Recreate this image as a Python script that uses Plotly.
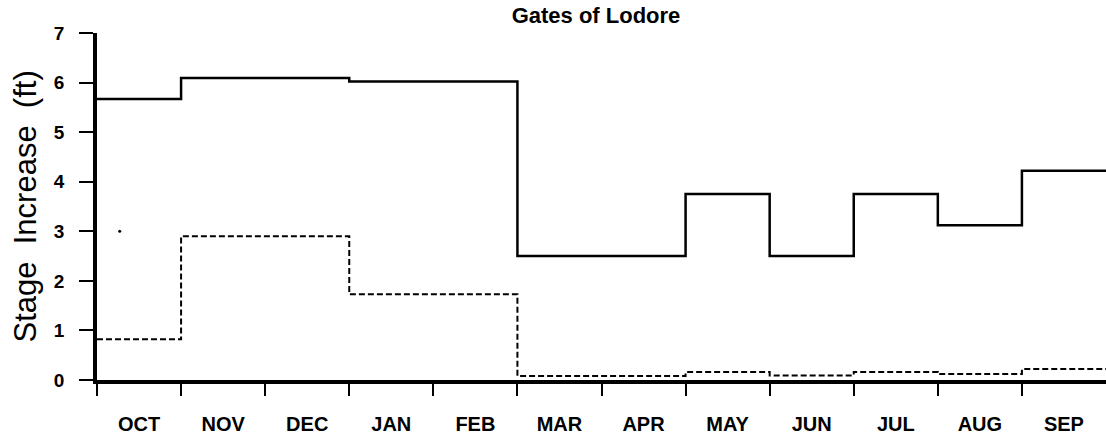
import plotly.graph_objects as go

months = ["OCT", "NOV", "DEC", "JAN", "FEB", "MAR", "APR", "MAY", "JUN", "JUL", "AUG", "SEP"]
solid_vals = [5.67, 6.09, 6.09, 6.02, 6.02, 2.5, 2.5, 3.75, 2.5, 3.75, 3.12, 4.22]
dashed_vals = [0.82, 2.9, 2.9, 1.73, 1.73, 0.08, 0.08, 0.16, 0.09, 0.16, 0.12, 0.22]
dot_x = [0.27]
dot_y = [3.0]
y_ticks = [0, 1, 2, 3, 4, 5, 6, 7]

edges = list(range(len(months) + 1))
centers = [i + 0.5 for i in range(len(months))]

fig = go.Figure()
fig.add_trace(go.Scatter(x=edges, y=solid_vals + [solid_vals[-1]], mode="lines",
                         line=dict(color="black", width=2.5, shape="hv"), showlegend=False))
fig.add_trace(go.Scatter(x=edges, y=dashed_vals + [dashed_vals[-1]], mode="lines",
                         line=dict(color="black", width=2, shape="hv", dash="6px,3px"), showlegend=False))
fig.add_trace(go.Scatter(x=dot_x, y=dot_y, mode="markers",
                         marker=dict(color="black", size=3), showlegend=False))
# invisible trace on second x axis so it renders
fig.add_trace(go.Scatter(x=centers, y=[None] * len(centers), xaxis="x2", mode="lines", showlegend=False))

font_fam = "Liberation Sans, Arial, sans-serif"

fig.update_layout(
    width=1106, height=437,
    margin=dict(l=97, r=0, t=33, b=57),
    paper_bgcolor="white", plot_bgcolor="white",
    title=dict(text="<b>Gates of Lodore</b>", x=596 / 1106, xanchor="center",
               y=1 - 15 / 437, yanchor="middle", yref="container",
               font=dict(family=font_fam, size=22, color="black")),
    xaxis=dict(range=[0, 12], tickvals=edges[:-1], showticklabels=False,
               ticks="outside", ticklen=12, tickwidth=2, tickcolor="black",
               showline=True, linecolor="black", linewidth=3.5, showgrid=False, zeroline=False),
    xaxis2=dict(range=[0, 12], overlaying="x", anchor="y", side="bottom",
                tickvals=centers, ticktext=months, ticks="", showline=False,
                showgrid=False, zeroline=False, ticklabelstandoff=30,
                tickfont=dict(family=font_fam, size=20, color="black", weight="bold")),
    yaxis=dict(range=[0, 7], tickvals=y_ticks, ticks="outside", ticklen=14, tickwidth=2,
               tickcolor="black", showline=True, linecolor="black", linewidth=3.5,
               showgrid=False, zeroline=False, ticklabelstandoff=11,
               tickfont=dict(family=font_fam, size=19, color="black", weight="bold")),
    annotations=[dict(text="Stage\u00a0\u00a0Increase\u00a0\u00a0(ft)", textangle=-90,
                      xref="paper", yref="paper", x=(25 - 97) / 1009, y=(380 - 206.5) / 347,
                      xanchor="center", yanchor="middle", showarrow=False,
                      font=dict(family=font_fam, size=31, color="black"))],
)

fig.write_html("out.html", config={"displayModeBar": False},
               post_script="document.body.style.margin='0';document.body.style.overflow='hidden';")
